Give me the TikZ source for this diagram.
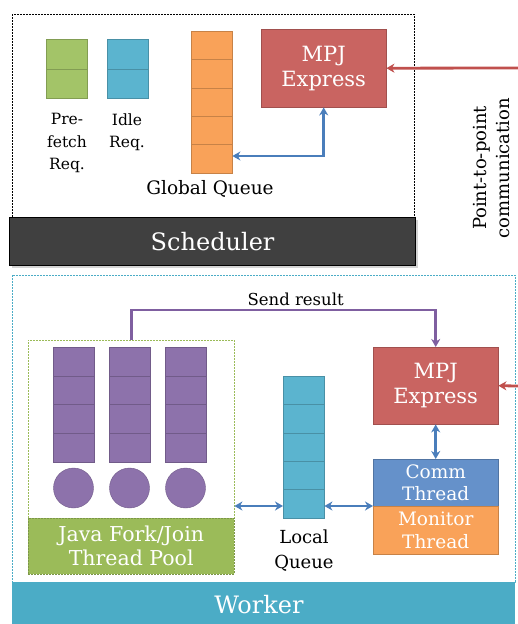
\documentclass[tikz,border=0pt]{standalone}
\usepackage{fontspec}
\setmainfont{DejaVu Serif}
\usetikzlibrary{arrows.meta,shadows}

\definecolor{schedgray}{HTML}{404040}
\definecolor{reqgreen}{HTML}{A3C468}
\definecolor{poolgreen}{HTML}{9BBB59}
\definecolor{qblue}{HTML}{5BB4CF}
\definecolor{workblue}{HTML}{4BACC6}
\definecolor{qorange}{HTML}{F9A259}
\definecolor{mpjred}{HTML}{C96461}
\definecolor{tpurple}{HTML}{8D72AB}
\definecolor{commblue}{HTML}{6591CA}
\definecolor{linkblue}{HTML}{4A7EBB}
\definecolor{linkred}{HTML}{C0504D}
\definecolor{linkpurple}{HTML}{7F5FA0}

\begin{document}
\begin{tikzpicture}[x=1pt,y=1pt,
    box/.style={draw=#1!80!black, fill=#1, inner sep=0pt, anchor=north west},
    whitetext/.style={text=white, align=center},
    dblarrow/.style={draw=linkblue, line width=2.8pt, {Stealth[length=8pt,width=9pt,inset=2.5pt]}-{Stealth[length=8pt,width=9pt,inset=2.5pt]}},
    onearrow/.style={draw=#1, line width=2.8pt, -{Stealth[length=8pt,width=9pt,inset=2.5pt]}}]
    \useasboundingbox (0,0) rectangle (518,-624);

    % scheduler
    \draw[dashed, dash pattern=on 2pt off 1pt] (12,-14) rectangle (414,-217);
    \node[box=schedgray, draw=black, line width=1.2pt, minimum width=406, minimum height=48,
        drop shadow={opacity=0.35}] (sched) at (9,-217) {};
    \node[text=white, font=\fontsize{24}{28}\selectfont] at (sched.center) {Scheduler};

    \node[box=reqgreen, minimum width=41, minimum height=59] (pre) at (46,-39) {};
    \draw[reqgreen!80!black] (pre.west) -- (pre.east);
    \node[box=qblue, minimum width=41, minimum height=59] (idle) at (107,-39) {};
    \draw[qblue!80!black] (idle.west) -- (idle.east);
    \node[align=center, font=\fontsize{15.5}{22.5}\selectfont, anchor=north] at (67,-110)
        {Pre-\\fetch\\Req.};
    \node[align=center, font=\fontsize{15.5}{22.5}\selectfont, anchor=north] at (127,-110)
        {Idle\\Req.};

    \node[box=qorange, minimum width=41, minimum height=142] (gq) at (191,-31) {};
    \foreach \k in {1,...,4}
        \draw[qorange!80!black] (191,-31-\k*28.4) -- ++(41,0);
    \node[font=\fontsize{18.5}{22}\selectfont] at (210,-189) {Global Queue};

    \node[box=mpjred, minimum width=125, minimum height=78] (mpjs) at (261,-29) {};
    \node[whitetext, font=\fontsize{21}{25}\selectfont] at (mpjs.center) {MPJ\\Express};

    \draw[dblarrow] (gq.east |- 0,-156) -| (mpjs.south);
    \coordinate (exts) at (518,-68);
    \draw[onearrow=linkred] (exts) -- (mpjs.east);
    \node[rotate=90, align=center, font=\fontsize{18}{23}\selectfont] at (491,-168)
        {Point-to-point\\communication};

    % worker
    \draw[workblue, dashed, dash pattern=on 2pt off 1pt] (12,-275) rectangle (515,-582);
    \node[box=workblue, draw=none, minimum width=503, minimum height=44] (work) at (12,-582) {};
    \node[text=white, font=\fontsize{24}{28}\selectfont] at (259,-605) {Worker};

    \node[draw=poolgreen, dashed, dash pattern=on 2pt off 1pt, inner sep=0pt, anchor=north west,
        minimum width=206, minimum height=234] (pool) at (28,-340) {};
    \node[box=poolgreen, dashed, dash pattern=on 2pt off 1pt, minimum width=206, minimum height=56]
        (poolbar) at (28,-518) {};
    \node[whitetext, font=\fontsize{20.5}{24}\selectfont] at (poolbar.center)
        {Java Fork/Join\\Thread Pool};
    \foreach \x in {53,109,165} {
        \node[box=tpurple, minimum width=41, minimum height=115] at (\x,-347) {};
        \foreach \k in {1,2,3}
            \draw[tpurple!80!black] (\x,-347-\k*28.75) -- ++(41,0);
        \filldraw[fill=tpurple, draw=tpurple!80!black] (\x+20.5,-488) circle (20);
    }

    \node[box=qblue, minimum width=41, minimum height=142] (lq) at (283,-376) {};
    \foreach \k in {1,...,4}
        \draw[qblue!80!black] (283,-376-\k*28.4) -- ++(41,0);
    \node[align=center, font=\fontsize{18}{25}\selectfont, anchor=north] at (304,-526)
        {Local\\Queue};

    \node[box=mpjred, minimum width=125, minimum height=77] (mpjw) at (373,-347) {};
    \node[whitetext, font=\fontsize{21}{25}\selectfont] at (mpjw.center) {MPJ\\Express};
    \node[box=commblue, minimum width=125, minimum height=47] (comm) at (373,-459) {};
    \node[whitetext, font=\fontsize{18.5}{22.5}\selectfont] at (comm.center) {Comm\\Thread};
    \node[box=qorange, minimum width=125, minimum height=48] (mon) at (373,-506) {};
    \node[whitetext, font=\fontsize{18.5}{22.5}\selectfont] at (mon.center) {Monitor\\Thread};

    \draw[onearrow=linkpurple] (pool.north) -- ++(0,30) -| node[pos=0.27, above=0pt,
        font=\fontsize{16.5}{19}\selectfont] {Send result} (mpjw.north);
    \coordinate (extw) at (518,-386);
    \draw[onearrow=linkred] (extw) -- (mpjw.east);
    \draw[dblarrow] (mpjw.south) -- (comm.north);
    \draw[dblarrow] (pool.east |- mon.north west) -- (lq.west |- mon.north west);
    \draw[dblarrow] (lq.east |- mon.north west) -- (mon.north west);
\end{tikzpicture}
\end{document}
